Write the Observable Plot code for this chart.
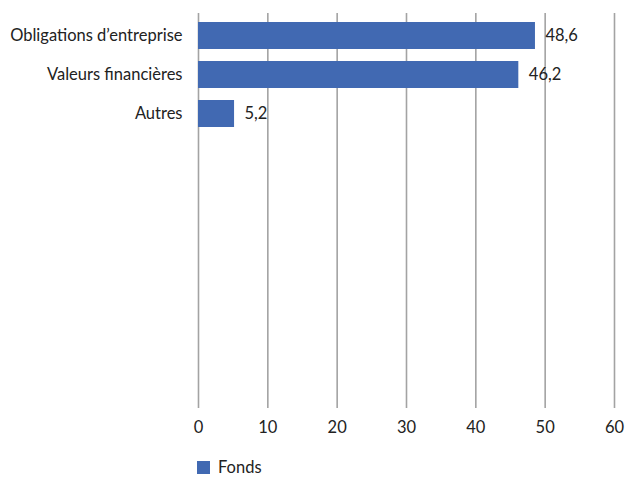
<!DOCTYPE html>
<html>
<head>
<meta charset="utf-8">
<script src="https://cdn.jsdelivr.net/npm/d3@7"></script>
<script src="https://cdn.jsdelivr.net/npm/@observablehq/plot@0.6"></script>
<style>
  body { margin: 0; background: #fff; font-family: Lato, "Liberation Sans", sans-serif; }
  #chart svg { display: block; }
  #legend { display: flex; align-items: center; padding-left: 197px; margin-top: 14px; font-size: 16.5px; line-height: 1; color: #222; }
  #legend .sw { width: 13px; height: 13px; background: #4169b2; margin-right: 8px; }
</style>
</head>
<body>
<div id="chart"></div>
<div id="legend"><span class="sw"></span><span id="legend-label"></span></div>
<script>
const categories = ["Obligations d’entreprise", "Valeurs financières", "Autres"];
const values = [48.6, 46.2, 5.2];
const seriesName = "Fonds";
const xTicks = [0, 10, 20, 30, 40, 50, 60];
const emptySlots = 7;

const data = categories.map((c, i) => ({ category: c, value: values[i] }));
const domain = categories.concat(d3.range(emptySlots).map(i => `__empty${i}`));
const fmt = v => String(v).replace(".", ",");

const plot = Plot.plot({
  width: 625,
  height: 445,
  marginTop: 13,
  marginBottom: 37,
  marginLeft: 198,
  marginRight: 11,
  style: { fontFamily: "Lato, 'Liberation Sans', sans-serif", fontSize: "16.5px", color: "#222", background: "#fff" },
  x: { domain: [0, 60], ticks: xTicks, tickSize: 0, tickPadding: 13, label: null },
  y: { domain, paddingInner: 0.32, paddingOuter: 0.16, tickSize: 0, tickPadding: 16, label: null,
       tickFormat: d => d.startsWith("__empty") ? "" : d },
  marks: [
    Plot.gridX(xTicks, { stroke: "#a3a3a3", strokeOpacity: 1, strokeWidth: 1.6 }),
    Plot.barX(data, { x: "value", y: "category", fill: "#4169b2" }),
    Plot.text(data, { x: "value", y: "category", text: d => fmt(d.value), textAnchor: "start", dx: 10, fill: "#222", fontSize: 16.5 })
  ]
});
document.getElementById("chart").appendChild(plot);
document.getElementById("legend-label").textContent = seriesName;
</script>
</body>
</html>
